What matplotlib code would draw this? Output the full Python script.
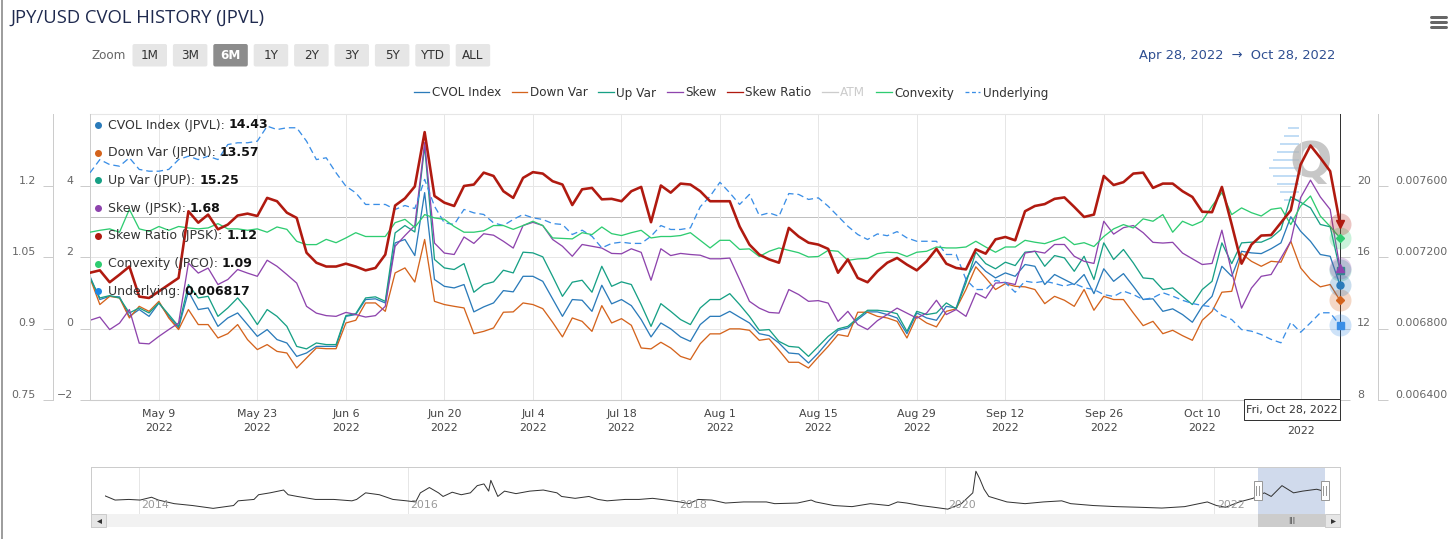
import numpy as np
import pandas as pd
import matplotlib
matplotlib.use("Agg")
import matplotlib.pyplot as plt
from matplotlib.patches import FancyBboxPatch, Rectangle
from matplotlib.transforms import ScaledTranslation
from matplotlib.lines import Line2D

W, H, DPI = 1456, 539, 100
PT = 72 / DPI  # one pixel in points

# --- data: trading days Apr 28 - Oct 28 2022 (ordinal axis, holidays dropped) ---
holidays = pd.to_datetime(["2022-05-30", "2022-06-20", "2022-07-04", "2022-09-05"])
dates = pd.bdate_range("2022-04-28", "2022-10-28")
dates = dates[~dates.isin(holidays)]

cvol = [14.92, 13.62, 13.80, 13.77, 12.68, 13.06, 12.68, 13.43, 12.68, 12.03,
        14.08, 13.06, 13.15, 12.12, 12.59, 12.87, 12.22, 11.56, 11.94, 11.38,
        11.19, 10.44, 10.63, 11.00, 11.00, 11.00, 12.68, 12.78, 13.62, 13.66,
        13.43, 16.79, 16.98, 16.08, 19.60, 14.74, 14.36, 14.27, 14.46, 12.93,
        13.21, 13.43, 14.12, 14.05, 14.92, 14.92, 14.64, 13.66, 12.68, 13.62,
        13.58, 12.96, 14.42, 13.38, 13.62, 13.28, 12.50, 11.53, 12.31, 11.98,
        11.53, 11.28, 12.22, 12.68, 12.68, 12.96, 12.63, 12.31, 11.71, 11.60,
        11.19, 10.63, 10.58, 10.07, 10.63, 11.28, 11.90, 12.03, 12.50, 12.93,
        12.93, 12.78, 12.59, 11.71, 12.87, 12.59, 12.46, 13.24, 13.15, 14.74,
        15.76, 15.20, 14.83, 15.11, 14.92, 15.58, 15.48, 14.46, 15.02, 14.74,
        14.46, 15.02, 13.95, 15.34, 14.64, 15.07, 14.36, 13.62, 13.66, 12.96,
        13.10, 12.78, 12.35, 13.24, 13.80, 15.48, 14.92, 16.32, 16.23, 16.19,
        16.46, 16.79, 18.25, 17.44, 16.88, 16.14, 16.04, 14.43]

down_var = [14.83, 13.34, 13.80, 13.71, 12.59, 13.24, 12.96, 13.52, 12.59, 11.94,
            13.06, 12.22, 12.22, 11.47, 11.71, 12.22, 11.38, 10.82, 11.10, 10.72,
            10.63, 9.79, 10.35, 10.91, 10.87, 10.87, 12.31, 12.46, 13.43, 13.43,
            12.96, 15.11, 15.39, 14.60, 16.98, 13.52, 13.34, 13.24, 13.15, 11.71,
            11.84, 12.03, 12.91, 12.93, 13.43, 13.34, 13.11, 12.35, 11.53, 12.59,
            12.40, 11.84, 13.28, 12.31, 12.55, 12.18, 10.91, 10.86, 11.23, 10.91,
            10.44, 10.26, 11.15, 11.70, 11.70, 11.98, 11.98, 11.90, 11.34, 11.42,
            10.78, 10.11, 10.11, 9.79, 10.41, 11.00, 11.66, 11.56, 12.91, 12.91,
            12.68, 12.59, 12.40, 11.47, 12.68, 12.31, 12.09, 12.96, 13.10, 14.18,
            15.45, 14.83, 14.18, 14.51, 14.36, 14.33, 14.18, 13.39, 13.80, 13.58,
            13.24, 14.18, 13.02, 13.80, 13.62, 13.62, 12.87, 12.16, 12.40, 11.71,
            11.90, 11.60, 11.34, 12.46, 12.96, 14.03, 14.08, 16.19, 15.76, 15.48,
            15.76, 15.71, 16.88, 15.39, 14.74, 14.33, 14.46, 13.57]

up_var = [14.83, 13.71, 13.84, 13.71, 12.87, 13.15, 12.87, 13.43, 12.78, 12.12,
          14.46, 13.71, 13.80, 12.68, 13.15, 13.71, 13.06, 12.22, 13.06, 12.68,
          12.12, 11.00, 10.86, 11.19, 11.10, 11.10, 12.72, 12.83, 13.71, 13.77,
          13.52, 17.35, 17.76, 17.40, 22.20, 15.86, 15.39, 15.30, 15.63, 14.03,
          14.46, 14.61, 15.26, 15.11, 16.27, 16.23, 16.01, 14.92, 13.80, 14.59,
          14.70, 14.03, 15.48, 14.36, 14.61, 14.46, 13.34, 12.12, 13.39, 12.96,
          12.50, 12.22, 13.15, 13.62, 13.62, 13.95, 13.34, 12.68, 11.90, 11.94,
          11.28, 11.00, 10.95, 10.44, 11.00, 11.56, 11.98, 12.12, 12.59, 13.02,
          13.02, 12.96, 12.83, 11.84, 12.96, 12.78, 12.87, 13.43, 13.10, 14.55,
          16.27, 15.63, 15.34, 15.71, 15.52, 16.27, 16.32, 15.48, 16.08, 15.95,
          15.20, 16.04, 14.74, 16.79, 15.86, 16.42, 15.67, 14.83, 14.78, 14.18,
          14.27, 13.80, 13.34, 14.18, 14.64, 16.79, 15.63, 16.79, 16.83, 16.83,
          17.07, 17.54, 19.37, 19.06, 18.75, 17.82, 17.69, 15.25]

skew = [0.23, 0.32, -0.03, 0.15, 0.53, -0.41, -0.43, -0.22, -0.03, 0.15,
        1.83, 1.55, 1.69, 1.23, 1.37, 1.65, 1.55, 1.46, 1.91, 1.74,
        1.51, 1.27, 0.62, 0.43, 0.36, 0.34, 0.45, 0.39, 0.32, 0.36,
        0.62, 2.30, 2.60, 2.88, 5.20, 2.39, 2.11, 2.07, 2.56, 2.38,
        2.65, 2.61, 2.44, 2.25, 2.88, 2.97, 2.88, 2.49, 2.30, 2.02,
        2.35, 2.30, 2.25, 2.10, 2.09, 2.23, 2.13, 1.35, 2.23, 2.04,
        2.10, 2.07, 2.05, 1.95, 1.95, 1.97, 1.37, 0.76, 0.57, 0.45,
        0.43, 1.09, 0.95, 0.76, 0.78, 0.71, 0.20, 0.48, 0.11, -0.03,
        0.22, 0.39, 0.57, 0.43, 0.29, 0.43, 0.79, 0.39, 0.53, 0.34,
        0.99, 0.85, 1.27, 1.29, 1.23, 2.11, 2.16, 2.11, 2.35, 2.35,
        2.02, 1.88, 1.82, 3.00, 2.64, 2.82, 2.88, 2.68, 2.41, 2.39,
        2.41, 2.11, 1.95, 1.79, 1.82, 2.75, 1.57, 0.57, 1.13, 1.46,
        1.51, 1.97, 2.44, 3.66, 4.15, 3.68, 3.33, 1.68]

skew_ratio = [1.017, 1.022, 0.997, 1.013, 1.030, 0.967, 0.964, 0.978, 0.992, 1.006,
              1.146, 1.122, 1.139, 1.108, 1.118, 1.137, 1.141, 1.136, 1.174, 1.167,
              1.143, 1.132, 1.059, 1.038, 1.030, 1.030, 1.036, 1.030, 1.022, 1.027,
              1.055, 1.158, 1.173, 1.198, 1.312, 1.178, 1.164, 1.157, 1.199, 1.202,
              1.227, 1.220, 1.188, 1.174, 1.216, 1.228, 1.225, 1.209, 1.202, 1.159,
              1.192, 1.195, 1.171, 1.172, 1.167, 1.188, 1.197, 1.123, 1.200, 1.185,
              1.204, 1.202, 1.188, 1.167, 1.167, 1.167, 1.114, 1.076, 1.055, 1.045,
              1.038, 1.111, 1.093, 1.080, 1.076, 1.067, 1.017, 1.045, 1.006, 0.997,
              1.020, 1.038, 1.048, 1.034, 1.022, 1.041, 1.067, 1.036, 1.027, 1.024,
              1.066, 1.057, 1.087, 1.092, 1.085, 1.146, 1.157, 1.161, 1.172, 1.175,
              1.155, 1.134, 1.139, 1.220, 1.201, 1.207, 1.225, 1.227, 1.195, 1.204,
              1.204, 1.188, 1.176, 1.145, 1.144, 1.197, 1.118, 1.036, 1.076, 1.095,
              1.096, 1.122, 1.148, 1.244, 1.284, 1.258, 1.230, 1.12]

convexity = [1.102, 1.106, 1.109, 1.102, 1.150, 1.109, 1.104, 1.114, 1.106, 1.114,
             1.111, 1.109, 1.111, 1.120, 1.109, 1.109, 1.106, 1.109, 1.102, 1.113,
             1.108, 1.083, 1.076, 1.076, 1.087, 1.080, 1.090, 1.101, 1.093, 1.093,
             1.093, 1.122, 1.129, 1.112, 1.139, 1.132, 1.129, 1.114, 1.102, 1.102,
             1.105, 1.116, 1.116, 1.108, 1.116, 1.125, 1.116, 1.090, 1.089, 1.088,
             1.101, 1.097, 1.113, 1.099, 1.095, 1.101, 1.106, 1.090, 1.093, 1.093,
             1.095, 1.101, 1.085, 1.069, 1.085, 1.085, 1.066, 1.067, 1.051, 1.062,
             1.069, 1.064, 1.059, 1.050, 1.051, 1.064, 1.062, 1.043, 1.046, 1.047,
             1.057, 1.060, 1.059, 1.051, 1.060, 1.062, 1.071, 1.069, 1.069, 1.071,
             1.083, 1.071, 1.060, 1.071, 1.071, 1.085, 1.081, 1.078, 1.085, 1.092,
             1.076, 1.080, 1.072, 1.093, 1.109, 1.118, 1.111, 1.130, 1.125, 1.139,
             1.102, 1.125, 1.116, 1.125, 1.157, 1.185, 1.139, 1.153, 1.143, 1.136,
             1.150, 1.153, 1.118, 1.157, 1.178, 1.136, 1.114, 1.09]

underlying = [0.007671, 0.007745, 0.007717, 0.007708, 0.007755, 0.007690, 0.007680, 0.007680, 0.007690, 0.007745,
              0.007764, 0.007745, 0.007764, 0.007745, 0.007829, 0.007839, 0.007839, 0.007848, 0.007932, 0.007913,
              0.007923, 0.007923, 0.007848, 0.007745, 0.007755, 0.007671, 0.007596, 0.007559, 0.007494, 0.007494,
              0.007494, 0.007466, 0.007488, 0.007471, 0.007634, 0.007484, 0.007391, 0.007382, 0.007466, 0.007447,
              0.007438, 0.007391, 0.007376, 0.007410, 0.007438, 0.007419, 0.007410, 0.007387, 0.007382, 0.007326,
              0.007350, 0.007316, 0.007251, 0.007276, 0.007283, 0.007276, 0.007276, 0.007316, 0.007376, 0.007354,
              0.007354, 0.007363, 0.007481, 0.007540, 0.007618, 0.007559, 0.007494, 0.007550, 0.007432, 0.007447,
              0.007428, 0.007555, 0.007550, 0.007522, 0.007531, 0.007484, 0.007428, 0.007372, 0.007326, 0.007298,
              0.007329, 0.007319, 0.007342, 0.007307, 0.007288, 0.007288, 0.007288, 0.007214, 0.007214, 0.007074,
              0.007018, 0.007018, 0.007070, 0.007056, 0.007003, 0.007065, 0.007056, 0.007065, 0.007052, 0.007037,
              0.007052, 0.007028, 0.007018, 0.006990, 0.006979, 0.007009, 0.006990, 0.006962, 0.006972, 0.007000,
              0.006981, 0.006958, 0.006940, 0.006929, 0.006921, 0.006873, 0.006850, 0.006794, 0.006785, 0.006766,
              0.006739, 0.006720, 0.006835, 0.006779, 0.006832, 0.006888, 0.006888, 0.006817]

# navigator: full JPVL history (decimal years)
nav_year = [2013.75, 2013.825, 2013.927, 2014.011, 2014.096, 2014.147, 2014.265, 2014.401, 2014.554, 2014.706,
            2014.740, 2014.858, 2014.892, 2014.977, 2015.078, 2015.112, 2015.180, 2015.315, 2015.451, 2015.586,
            2015.621, 2015.688, 2015.790, 2015.891, 2015.993, 2016.060, 2016.095, 2016.162, 2016.230, 2016.264,
            2016.332, 2016.399, 2016.467, 2016.518, 2016.568, 2016.603, 2016.619, 2016.671, 2016.721, 2016.806,
            2016.908, 2017.009, 2017.111, 2017.145, 2017.246, 2017.348, 2017.416, 2017.484, 2017.618, 2017.721,
            2017.822, 2017.923, 2018.025, 2018.093, 2018.161, 2018.262, 2018.364, 2018.499, 2018.668, 2018.730,
            2018.899, 2019.001, 2019.034, 2019.170, 2019.305, 2019.441, 2019.577, 2019.644, 2019.712, 2019.814,
            2019.915, 2020.017, 2020.118, 2020.203, 2020.226, 2020.254, 2020.287, 2020.322, 2020.457, 2020.592,
            2020.728, 2020.864, 2020.931, 2021.100, 2021.270, 2021.440, 2021.609, 2021.778, 2021.947, 2022.015,
            2022.083, 2022.185, 2022.286, 2022.371, 2022.422, 2022.502, 2022.588, 2022.655, 2022.760, 2022.822]
nav_val = [11.6, 8.9, 9.3, 8.9, 10.7, 8.9, 6.6, 5.4, 3.6, 5.4,
           8.4, 9.3, 12.3, 13.5, 15.3, 12.3, 11.2, 9.3, 9.3, 8.4,
           9.3, 13.5, 12.3, 9.3, 8.4, 7.7, 13.5, 16.9, 13.5, 11.2,
           13.9, 12.3, 13.5, 18.1, 19.2, 14.6, 21.5, 11.2, 14.6, 13.0,
           14.6, 15.3, 13.5, 11.2, 10.0, 11.2, 9.3, 8.4, 9.3, 9.3,
           10.0, 8.9, 7.7, 6.6, 9.3, 8.9, 7.0, 7.7, 7.7, 6.6,
           7.0, 8.9, 7.7, 5.4, 4.7, 6.6, 5.4, 7.7, 7.0, 5.4,
           4.3, 3.1, 6.6, 13.5, 27.3, 22.6, 15.8, 11.2, 7.7, 6.6,
           7.7, 8.4, 6.6, 5.4, 4.7, 4.3, 3.8, 4.7, 7.7, 5.4,
           4.3, 7.7, 10.0, 13.5, 11.2, 18.1, 13.5, 14.6, 15.8, 14.4]

series_names = ["CVOL Index", "Down Var", "Up Var", "Skew", "Skew Ratio", "ATM", "Convexity", "Underlying"]
tooltip_names = ["CVOL Index (JPVL)", "Down Var (JPDN)", "Up Var (JPUP)", "Skew (JPSK)",
                 "Skew Ratio (JPSK)", "Convexity (JPCO)", "Underlying"]
zoom_buttons = ["1M", "3M", "6M", "1Y", "2Y", "3Y", "5Y", "YTD", "ALL"]
ref_level = 18.25  # darker horizontal plot line (CVOL scale)

# --- style ---
C_CVOL, C_DOWN, C_UP, C_SKEW = "#2b7bba", "#d4631c", "#17a085", "#8e44ad"
C_RATIO, C_ATM, C_CONV, C_UND = "#b01a10", "#cccccc", "#2ecc71", "#3a8ee6"
GRID, AXIS, LABEL = "#e6e6e6", "#cccccc", "#666666"
LW = 1.3 * PT

plt.rcParams["font.family"] = ["DejaVu Sans"]
fig = plt.figure(figsize=(W / DPI, H / DPI), dpi=DPI)


def box(x0, y0, x1, y1):
    return [x0 / W, 1 - y1 / H, (x1 - x0) / W, (y1 - y0) / H]


ax = fig.add_axes(box(90, 114, 1340, 400))
ax_sk = ax.twinx()
ax_un = ax.twinx()
ax_ra = ax.twinx()

x = np.arange(len(dates))
ax.set_xlim(x[0], x[-1])


def style_y(a, side, lim, ticks, labels, outward=0):
    a.set_ylim(*lim)
    a.set_yticks(ticks)
    a.set_yticklabels(labels)
    for s in a.spines.values():
        s.set_visible(False)
    sp = a.spines[side]
    sp.set_visible(True)
    sp.set_color(AXIS)
    sp.set_linewidth(PT)
    sp.set_position(("outward", outward * PT))
    if side == "left":
        a.yaxis.tick_left()
    else:
        a.yaxis.tick_right()
    a.tick_params(axis="y", length=10 * PT, width=PT, color=AXIS, labelcolor=LABEL,
                  labelsize=11 * PT, pad=7 * PT)


style_y(ax, "right", (8, 24), [8, 12, 16, 20], ["8", "12", "16", "20"])
style_y(ax_sk, "left", (-2, 6), [-2, 0, 2, 4], ["\u22122", "0", "2", "4"])
style_y(ax_ra, "left", (0.75, 1.35), [0.75, 0.9, 1.05, 1.2], ["0.75", "0.9", "1.05", "1.2"], outward=37)
style_y(ax_un, "right", (0.0064, 0.0080), [0.0064, 0.0068, 0.0072, 0.0076],
        ["%.6f" % v for v in [0.0064, 0.0068, 0.0072, 0.0076]], outward=38)

ax.spines["bottom"].set_visible(True)
ax.spines["bottom"].set_color(AXIS)
ax.spines["top"].set_visible(True)
ax.spines["top"].set_color(GRID)
ax.grid(True, color=GRID, lw=PT)
ax.axhline(ref_level, color="#c0c0c0", lw=PT, zorder=1)

# x ticks: every other Monday, placed on the ordinal (trading-day) axis;
# the last label's date line sits under the crosshair label, only its year shows
label_days = pd.date_range("2022-05-09", "2022-10-24", freq="14D")
tick_pos = np.searchsorted(dates.values, label_days.values)
tick_text = [f"{d:%b} {d.day}\n{d.year}" for d in label_days]
tick_text[-1] = f"{label_days[-1].year}"
ax.set_xticks(tick_pos)
ax.set_xticklabels(tick_text, linespacing=1.45)
ax.tick_params(axis="x", length=0, pad=9 * PT, labelsize=11 * PT, labelcolor="#444444")

# --- series ---
ax.plot(x, cvol, color=C_CVOL, lw=LW, zorder=3)
ax.plot(x, down_var, color=C_DOWN, lw=LW, zorder=3)
ax.plot(x, up_var, color=C_UP, lw=LW, zorder=3)
ax_sk.plot(x, skew, color=C_SKEW, lw=LW)
ax_un.plot(x, underlying, color=C_UND, lw=LW, ls=(0, (5, 3)))
ax_ra.plot(x, convexity, color=C_CONV, lw=LW)
ax_ra.plot(x, skew_ratio, color=C_RATIO, lw=2.6 * PT)

# crosshair at the hovered (last) point
ax.axvline(x[-1], ymin=-20 / 286, ymax=1, color="#333333", lw=PT, clip_on=False, zorder=4)

# hover markers with halos
hover = [(ax_un, underlying, C_UND, "s", 7), (ax, down_var, C_DOWN, "D", 6), (ax, cvol, C_CVOL, "o", 7),
         (ax, up_var, C_UP, "s", 7), (ax_sk, skew, C_SKEW, "^", 8), (ax_ra, convexity, C_CONV, "D", 6),
         (ax_ra, skew_ratio, C_RATIO, "v", 8)]
for a, s, c, m, sz in hover:
    a.plot(x[-1], s[-1], "o", ms=22 * PT, color=c, alpha=0.25, mec="none", clip_on=False, zorder=6)
for a, s, c, m, sz in hover:
    a.plot(x[-1], s[-1], marker=m, ms=sz * PT, color=c, mec=c, clip_on=False, zorder=7)

# watermark
for k in range(10):
    yk = 0.95 - 0.028 * k
    ax.plot([0.944 + 0.003 * abs(k - 5), 0.966], [yk, yk], transform=ax.transAxes,
            color="#a9cff2", lw=2 * PT, alpha=0.7, zorder=0.5)
ax.text(0.977, 0.83, "Q", transform=ax.transAxes, ha="center", va="center", fontsize=50 * PT,
        fontweight="bold", color="#b5b5b5", alpha=0.75, zorder=0.6)

# tick label offsets (Highcharts draws y labels a little above the grid line)
lift = ScaledTranslation(0, 6 / DPI, fig.dpi_scale_trans)
for a in (ax, ax_sk, ax_ra, ax_un):
    for t in a.yaxis.get_majorticklabels():
        t.set_transform(t.get_transform() + lift)
# the year-only label goes on the second line
drop = ScaledTranslation(0, -17 / DPI, fig.dpi_scale_trans)
last_lbl = ax.xaxis.get_majorticklabels()[-1]
last_lbl.set_transform(last_lbl.get_transform() + drop)

# --- legend ---
handles = [Line2D([], [], color=c, lw=1.3 * PT, ls=ls) for c, ls in
           [(C_CVOL, "-"), (C_DOWN, "-"), (C_UP, "-"), (C_SKEW, "-"), (C_RATIO, "-"),
            (C_ATM, "-"), (C_CONV, "-"), (C_UND, (0, (3, 2)))]]
leg = fig.legend(handles, series_names, ncol=8, loc="center", bbox_to_anchor=(731 / W, 1 - 93 / H),
                 frameon=False, fontsize=12 * PT, handlelength=1.3, handletextpad=0.2,
                 columnspacing=0.9, borderpad=0)
for t, n in zip(leg.get_texts(), series_names):
    t.set_color(C_ATM if n == "ATM" else "#333333")

# --- navigator ---
nav = fig.add_axes(box(105, 467, 1325, 514))
nav.set_xlim(nav_year[0], nav_year[-1])
nav.set_ylim(0, 30)
nav.axis("off")
sel_start = dates[0].year + (dates[0].dayofyear - 1) / 365
sel_end = dates[-1].year + (dates[-1].dayofyear - 1) / 365
for yr in range(2014, 2023, 2):
    nav.axvline(yr, color=GRID, lw=PT, zorder=0)
    nav.annotate(str(yr), xy=(yr, 0), xycoords=nav.get_xaxis_transform(), xytext=(3 * PT, 9 * PT),
                 textcoords="offset points", va="center", ha="left", fontsize=11 * PT, color="#999999")
nav.axvspan(sel_start, sel_end, color=(0.4, 0.52, 0.76, 0.3), lw=0)
nav.plot(nav_year, nav_val, color="#333333", lw=PT)
hw = 8 / 134.5
for s in (sel_start, sel_end):
    nav.add_patch(Rectangle((s - hw / 2, 0.3), hw, 0.4, transform=nav.get_xaxis_transform(),
                            fc="white", ec="#999999", lw=PT, clip_on=False, zorder=5))
    for d in (-1.5, 1.5):
        nav.plot([s + d / 134.5] * 2, [0.4, 0.6], transform=nav.get_xaxis_transform(), color="#999999",
                 lw=PT, clip_on=False, zorder=6)

sb = fig.add_axes(box(105, 514, 1325, 527))
sb.set_xlim(nav_year[0], nav_year[-1])
sb.set_facecolor("#f2f2f2")
for s in sb.spines.values():
    s.set_visible(False)
sb.set_xticks([])
sb.set_yticks([])
sb.axvspan(sel_start, sel_end, color="#cccccc", lw=0)
sb.text((sel_start + sel_end) / 2, 0.5, "|||", ha="center", va="center", fontsize=7 * PT, color="#333333")

# --- overlay (page furniture, pixel coords) ---
ov = fig.add_axes([0, 0, 1, 1], zorder=10)
ov.set_xlim(0, W)
ov.set_ylim(H, 0)
ov.axis("off")

ov.plot([1.5, 1.5], [0, H], color="#9e9e9e", lw=2 * PT)
ov.text(10, 18, "JPY/USD CVOL HISTORY (JPVL)", fontsize=18.5 * PT, color="#1f2a4f", va="center",
        family=["Open Sans", "DejaVu Sans"])
for yy in (17, 22, 27):
    ov.plot([1431, 1446], [yy, yy], color="#666666", lw=3 * PT, solid_capstyle="round")

ov.text(91, 55.5, "Zoom", fontsize=12 * PT, color="#666666", va="center")
for k, lab in enumerate(zoom_buttons):
    x0 = 132.5 + k * 40.4
    on = lab == "6M"
    ov.add_patch(FancyBboxPatch((x0, 44), 34.5, 22.5, boxstyle="round,pad=0,rounding_size=2",
                                fc="#8c8c8c" if on else "#e6e6e6", ec="none"))
    ov.text(x0 + 17.25, 55.5, lab, ha="center", va="center", fontsize=12 * PT,
            color="white" if on else "#333333", fontweight="bold" if on else "normal")

d0, d1 = dates[0], dates[-1]
ov.text(1335, 55.5, f"{d0:%b} {d0.day}, {d0.year}  \u2192  {d1:%b} {d1.day}, {d1.year}", ha="right",
        va="center", fontsize=13 * PT, color="#2f4f92")

# tooltip
last = [f"{cvol[-1]:.2f}", f"{down_var[-1]:.2f}", f"{up_var[-1]:.2f}", f"{skew[-1]:.2f}",
        f"{skew_ratio[-1]:.2f}", f"{convexity[-1]:.2f}", f"{underlying[-1]:.6f}"]
tip_cols = [C_CVOL, C_DOWN, C_UP, C_SKEW, C_RATIO, C_CONV, "#1e88e5"]
for k, (n, v, c) in enumerate(zip(tooltip_names, last, tip_cols)):
    yy = 125 + k * 27.7
    ov.plot(98, yy, "o", ms=7 * PT, color=c, mec="none")
    t = ov.text(108, yy, n + ": ", va="center", ha="left", fontsize=12.5 * PT, color="#333333")
    ov.annotate(v, xy=(1, 0.5), xycoords=t, va="center", ha="left", fontsize=12.5 * PT,
                fontweight="bold", color="#111111")

# crosshair label
ov.add_patch(Rectangle((1243.5, 398.5), 96.5, 21.5, fc="white", ec="#333333", lw=PT, zorder=5))
ov.text(1291.5, 409.5, f"{d1:%a}, {d1:%b} {d1.day}, {d1.year}", ha="center", va="center",
        fontsize=11 * PT, color="#333333", zorder=6)

# navigator frame and scrollbar buttons
ov.plot([91, 1340], [467, 467], color=AXIS, lw=PT)
ov.plot([91, 91], [467, 527], color=AXIS, lw=PT)
ov.plot([1340, 1340], [467, 527], color=AXIS, lw=PT)
for bx, mk in ((91, "<"), (1325, ">")):
    ov.add_patch(Rectangle((bx, 514), 15, 13, fc="#e6e6e6", ec=AXIS, lw=PT))
    ov.plot(bx + 7.5, 520.5, marker=mk, ms=5 * PT, color="#333333", mec="none")

fig.savefig("out.png", dpi=DPI)
